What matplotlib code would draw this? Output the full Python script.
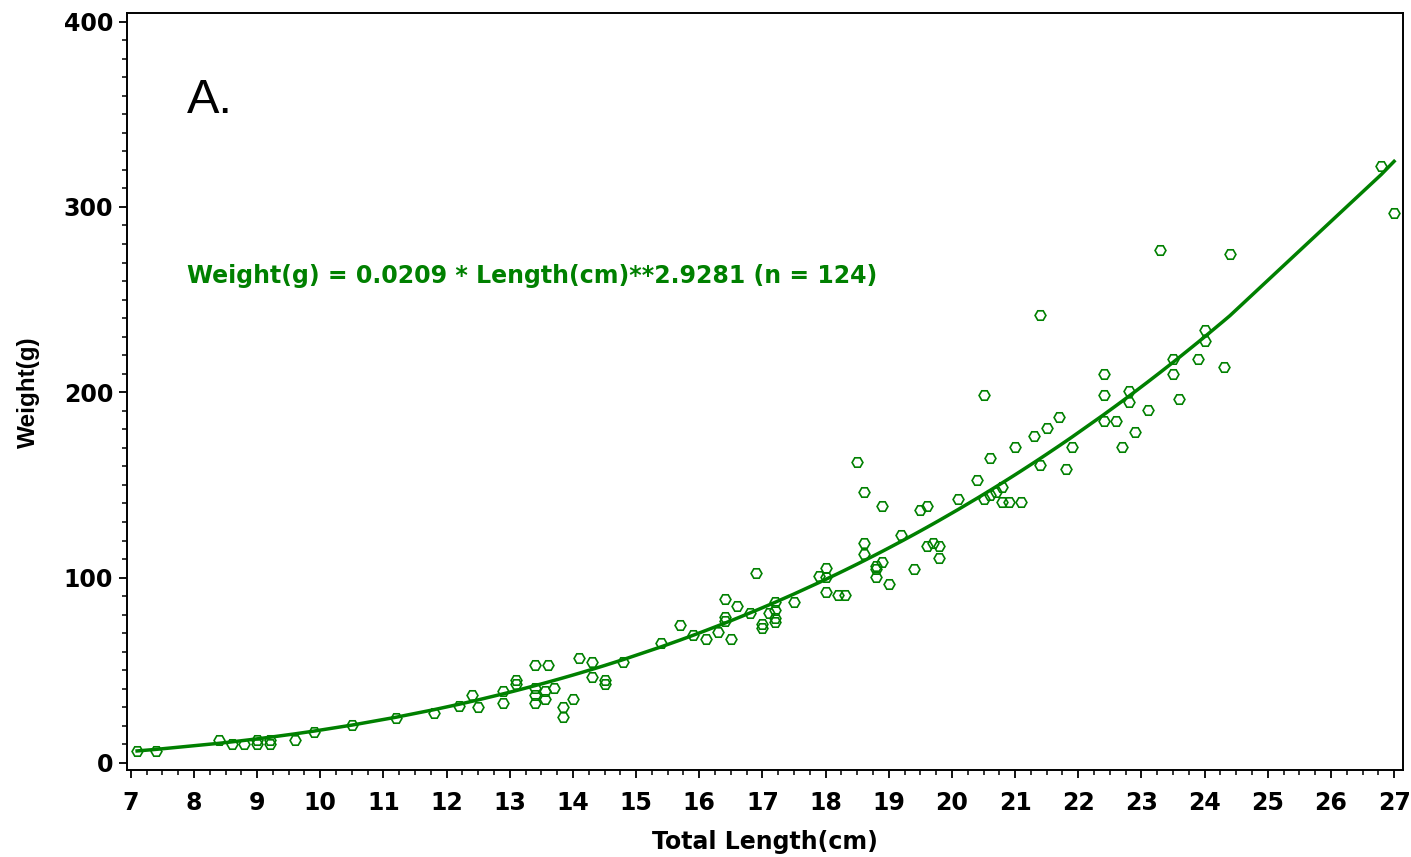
import numpy as np
import matplotlib
matplotlib.use('Agg')
import matplotlib.pyplot as plt
from matplotlib.ticker import MultipleLocator

# length-weight data
length_cm = [
    7.1, 7.4, 8.4, 8.6, 8.8, 9.0, 9.0, 9.2, 9.2, 9.6, 9.9, 10.5, 11.2, 11.8,
    12.2, 12.4, 12.5, 12.9, 12.9, 13.1, 13.1, 13.4, 13.6, 13.4, 13.4, 13.4,
    13.55, 13.55, 13.7, 13.85, 13.85, 14.0, 14.1, 14.3, 14.3, 14.5, 14.5, 14.8,
    15.4, 15.7, 15.9, 16.1, 16.3, 16.5, 16.4, 16.4, 16.4, 16.6, 16.8, 16.9,
    17.0, 17.0, 17.1, 17.2, 17.2, 17.2, 17.2, 17.5, 17.9, 18.0, 18.0, 18.0,
    18.2, 18.3,
    18.5, 18.6, 18.9, 18.6, 18.6, 18.8, 18.9, 18.8, 18.8, 19.0, 19.2, 19.4,
    19.5, 19.6, 19.6, 19.7, 19.8, 19.8,
    20.1, 20.4, 20.5, 20.6, 20.7, 20.8, 20.6, 21.0, 20.8, 20.9, 21.1, 21.4,
    21.8, 21.9, 21.3, 21.5, 21.7, 20.5,
    22.4, 22.8, 22.8, 22.4, 22.6, 23.1, 22.9, 22.7, 23.6, 21.4, 23.3, 24.4,
    24.0, 24.0, 23.5, 23.9, 24.3, 22.4, 23.5, 26.8, 27.0,
]
weight_g = [
    6.6, 6.6, 12.5, 10.5, 10.5, 12.5, 10.3, 12.5, 10.5, 12.5, 16.5, 20.5, 24.5, 26.8,
    30.6, 36.5, 30.4, 38.8, 32.6, 44.7, 42.8, 52.6, 52.6, 40.3, 36.7, 32.5,
    38.8, 34.5, 40.3, 30.4, 24.6, 34.5, 56.5, 54.6, 46.6, 44.7, 42.7, 54.6,
    64.9, 74.5, 68.9, 66.7, 70.7, 66.7, 88.5, 79.0, 76.5, 84.7, 80.8, 102.7,
    75.0, 72.7, 80.8, 87.0, 82.6, 78.0, 76.3, 86.7, 100.9, 105.1, 100.5, 92.4,
    90.7, 90.7,
    162.6, 146.4, 138.7, 118.6, 112.8, 106.5, 108.6, 104.4, 100.5, 96.6, 123.0, 104.6,
    136.5, 138.7, 116.9, 118.6, 116.9, 110.8,
    142.5, 152.6, 142.5, 144.5, 146.4, 148.7, 164.4, 170.7, 140.7, 140.7, 140.7, 160.5,
    158.6, 170.7, 176.5, 180.6, 186.6, 198.6,
    198.6, 200.9, 194.7, 184.7, 184.7, 190.5, 178.5, 170.7, 196.4, 241.9, 276.5, 274.5,
    233.8, 227.5, 217.8, 217.8, 213.5, 209.8, 209.8, 322.2, 296.8,
]

# fitted power model shown on the chart
coef_a = 0.0209
coef_b = 2.9281
n_fish = 124

x_ticks = list(range(7, 28))
y_ticks = [0, 100, 200, 300, 400]

green = '#008000'

fig = plt.figure(figsize=(14.11, 8.57), dpi=100)
ax = fig.add_axes([0.09, 0.1015, 0.9043, 0.8833])

# predicted weights at the observed lengths (joined like the original fit line)
fit_x = np.unique(length_cm)
fit_y = coef_a * fit_x ** coef_b
ax.plot(fit_x, fit_y, color=green, lw=2.5, zorder=3)

ax.plot(length_cm, weight_g, linestyle='none', marker='H', ms=7.8,
        mfc='none', mec=green, mew=1.2, zorder=4, clip_on=False)

ax.set_xlim(6.94, 27.14)
ax.set_ylim(-3.8, 404.6)
ax.set_xticks(x_ticks)
ax.set_yticks(y_ticks)
ax.xaxis.set_minor_locator(MultipleLocator(0.25))
ax.yaxis.set_minor_locator(MultipleLocator(10))

tick_font = {'family': 'DejaVu Sans', 'weight': 'bold', 'size': 17}
ax.set_xticklabels([str(t) for t in x_ticks], fontdict=tick_font)
ax.set_yticklabels([str(t) for t in y_ticks], fontdict=tick_font)
ax.tick_params(which='major', direction='out', length=6, width=1.3)
ax.tick_params(which='minor', direction='out', length=3.6, width=1.1)
ax.tick_params(axis='y', which='major', pad=4)
ax.tick_params(axis='x', which='major', pad=9)
for s in ax.spines.values():
    s.set_linewidth(1.4)

ax.set_xlabel('Total Length(cm)', fontfamily='DejaVu Sans', fontweight='bold',
              fontsize=17, labelpad=11)
fig.text(28 / 1411, 1 - 392 / 857, 'Weight(g)', rotation=90, ha='center',
         va='center', fontfamily='Liberation Sans', fontweight='bold', fontsize=17.5)

ax.text(0.047, 0.868, 'A.', transform=ax.transAxes, fontfamily='Liberation Sans',
        fontsize=35, va='baseline', ha='left')
ax.text(0.047, 0.643,
        'Weight(g) = %.4f * Length(cm)**%.4f (n = %d)' % (coef_a, coef_b, n_fish),
        transform=ax.transAxes, fontfamily='DejaVu Sans', fontweight='bold',
        fontsize=17, color=green, va='baseline', ha='left')

fig.savefig('out.png', dpi=100)
